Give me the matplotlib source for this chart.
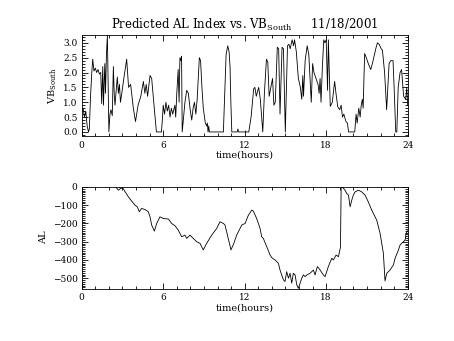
import numpy as np
import matplotlib
matplotlib.use("Agg")
import matplotlib.pyplot as plt
from matplotlib.ticker import MultipleLocator, FormatStrFormatter

plt.rcParams['font.family'] = ['DejaVu Serif']
plt.rcParams['mathtext.fontset'] = 'dejavuserif'

# VB_south (top panel), hours vs value
t_vb = [0.0, 0.1, 0.2, 0.3, 0.4, 0.5, 0.56, 0.65, 0.74, 0.81, 0.9, 1.0, 1.1, 1.2, 1.3, 1.4,
        1.47, 1.55, 1.6, 1.7, 1.75, 1.82, 1.89, 1.95, 2.0, 2.08, 2.15, 2.25, 2.33, 2.4, 2.45,
        2.62, 2.7, 2.78, 2.85, 2.95, 3.1, 3.31, 3.45, 3.6, 3.7, 3.8, 3.96, 4.15, 4.35, 4.54,
        4.65, 4.75, 4.85, 5.03, 5.15, 5.3, 5.4, 5.5, 5.87, 5.95, 6.0, 6.1, 6.2, 6.3, 6.4, 6.5,
        6.6, 6.7, 6.86, 6.92, 7.0, 7.1, 7.17, 7.23, 7.3, 7.35, 7.4, 7.6, 7.73, 7.85, 8.0, 8.1,
        8.2, 8.3, 8.4, 8.5, 8.66, 8.75, 8.85, 8.95, 9.1, 9.2, 9.25, 9.3, 9.35, 9.4, 10.43,
        10.63, 10.75, 10.85, 10.92, 10.98, 11.05, 11.45, 11.5, 11.55, 12.3, 12.47, 12.66,
        12.75, 12.85, 13.03, 13.15, 13.33, 13.45, 13.6, 13.7, 13.8, 13.97, 14.05, 14.15,
        14.25, 14.4, 14.5, 14.6, 14.75, 14.85, 14.99, 15.15, 15.25, 15.35, 15.49, 15.6,
        15.67, 15.8, 15.95, 16.1, 16.2, 16.28, 16.33, 16.45, 16.6, 16.72, 16.9, 17.0, 17.1,
        17.25, 17.4, 17.48, 17.55, 17.62, 17.72, 17.82, 17.9, 18.0, 18.1, 18.16, 18.3, 18.45,
        18.62, 18.72, 18.85, 19.0, 19.1, 19.2, 19.3, 19.45, 19.56, 19.65, 20.1, 20.2, 20.28,
        20.4, 20.5, 20.58, 20.66, 20.72, 20.83, 20.95, 21.1, 21.28, 21.4, 21.55, 21.65,
        21.77, 21.9, 22.05, 22.14, 22.3, 22.45, 22.63, 22.75, 22.92, 23.0, 23.12, 23.2, 23.3,
        23.44, 23.55, 23.7, 23.85, 23.93, 24.0]
vb = [0.75, 0.8, 0.5, 0.7, 0.2, 0.0, 0.1, 1.2, 2.0, 2.45, 2.05, 2.15, 2.0, 2.1, 1.95, 2.0,
      0.95, 2.2, 0.9, 2.3, 1.3, 2.6, 3.25, 1.5, 0.0, 0.6, 0.75, 0.55, 2.2, 1.2, 0.9,
      1.85, 1.3, 1.6, 1.0, 1.3, 1.8, 2.45, 1.5, 1.6, 1.2, 0.8, 0.35, 0.9, 1.2, 1.7,
      1.3, 1.6, 1.2, 1.9, 1.8, 1.0, 0.5, 0.0, 0.0, 0.5, 0.9, 0.6, 1.0, 0.7, 0.9, 0.5,
      0.8, 0.6, 0.9, 0.5, 1.3, 2.1, 1.0, 2.5, 2.4, 2.55, 0.0, 1.0, 1.4, 1.3, 0.7, 0.4,
      0.8, 1.0, 0.6, 1.1, 2.5, 2.4, 1.5, 0.8, 0.3, 0.2, 0.3, 0.0, 0.2, 0.0, 0.0,
      2.6, 2.9, 2.7, 2.2, 1.0, 0.0, 0.0, 0.1, 0.0, 0.0, 0.5, 1.45,
      1.5, 1.2, 1.5, 1.1, 0.0, 1.3, 2.45, 2.35, 1.2, 1.6, 1.8, 0.9,
      1.0, 2.85, 2.8, 0.6, 2.85, 2.8, 0.0, 2.9, 2.95, 2.8, 3.1, 2.9,
      3.1, 2.7, 1.8, 1.5, 1.1, 1.9, 1.2, 2.4, 2.9, 2.6, 1.0, 2.3, 2.0,
      1.8, 1.6, 1.3, 1.8, 1.0, 2.2, 3.1, 3.0, 3.1, 1.4, 3.1, 0.86, 1.0,
      1.7, 1.3, 0.85, 0.75, 0.9, 0.5, 0.6, 0.35, 0.3, 0.0, 0.0, 0.6, 0.3,
      0.8, 0.5, 0.9, 1.1, 0.8, 2.64, 2.5, 2.3, 2.1, 2.3, 2.6, 2.8,
      3.0, 2.95, 2.8, 2.75, 2.0, 0.75, 2.3, 2.4, 2.4, 1.5, 0.0, 0.0, 1.5,
      2.0, 2.1, 1.2, 1.1, 1.5, 0.9]

# predicted AL index (bottom panel)
t_al = [2.52, 2.7, 2.85, 3.01, 3.2, 3.43, 3.68, 3.92, 4.09, 4.24, 4.41, 4.66, 4.9, 5.03,
        5.15, 5.35, 5.52, 5.76, 6.0, 6.38, 6.62, 6.87, 7.11, 7.36, 7.6, 7.73, 7.97, 8.22,
        8.46, 8.71, 8.95, 9.2, 9.57, 9.94, 10.18, 10.43, 10.55, 10.99, 11.2, 11.41, 11.78,
        12.03, 12.27, 12.52, 12.64, 12.88, 13.13, 13.25, 13.37, 13.62, 13.87, 13.99, 14.23,
        14.48, 14.6, 14.72, 14.85, 14.97, 15.09, 15.22, 15.34, 15.46, 15.58, 15.71, 15.83,
        15.95, 16.08, 16.2, 16.32, 16.45, 16.57, 16.81, 17.06, 17.18, 17.35, 17.55, 17.79,
        17.92, 18.16, 18.41, 18.53, 18.73, 18.9, 19.05, 19.1, 19.2, 19.39, 19.51, 19.64,
        19.76, 19.88, 20.0, 20.13, 20.37, 20.61, 20.86, 21.1, 21.35, 21.47, 21.72, 21.97,
        22.21, 22.33, 22.46, 22.7, 22.95, 23.07, 23.32, 23.44, 23.56, 23.81, 23.88, 24.0]
al = [-2, -18, -9, -5, -27, -54, -78, -100, -109, -136, -118, -124, -136, -164,
      -209, -242, -200, -164, -173, -176, -200, -213, -237, -273, -264, -282, -264, -282,
      -300, -309, -345, -309, -264, -227, -191, -200, -209, -345, -309, -264, -209,
      -200, -155, -127, -133, -173, -227, -273, -282, -327, -373, -387, -400,
      -418, -455, -482, -509, -518, -464, -500, -473, -527, -473, -482, -536,
      -555, -527, -500, -482, -491, -482, -473, -455, -482, -436, -455, -482,
      -491, -436, -391, -400, -373, -382, -330, -5, -2, -18, -36, -45,
      -109, -73, -45, -27, -18, -27, -45, -82, -127, -145, -182, -255,
      -364, -515, -473, -455, -427, -391, -345, -318, -309, -291, -255, -240]

fig = plt.figure(figsize=(4.54, 3.41), dpi=100)
ax1 = fig.add_axes([0.180, 0.600, 0.718, 0.298])
ax2 = fig.add_axes([0.180, 0.153, 0.718, 0.300])

ax1.plot(t_vb, vb, color='k', lw=0.6)
ax2.plot(t_al, al, color='k', lw=0.6)

ax1.set_ylim(-0.15, 3.27)
ax1.yaxis.set_major_locator(MultipleLocator(0.5))
ax1.yaxis.set_minor_locator(MultipleLocator(0.1))
ax1.yaxis.set_major_formatter(FormatStrFormatter('%.1f'))
ax1.set_ylabel('VB$_{\\rm South}$', fontsize=7, labelpad=3)
ax1.set_title('Predicted AL Index vs. VB$_{\\rm South}$     11/18/2001', fontsize=8.5, pad=4)

ax2.set_ylim(-558, 2)
ax2.yaxis.set_major_locator(MultipleLocator(100))
ax2.yaxis.set_minor_locator(MultipleLocator(10))
ax2.set_ylabel('AL', fontsize=7, labelpad=3)

for ax in (ax1, ax2):
    ax.set_xlim(0, 24)
    ax.xaxis.set_major_locator(MultipleLocator(6))
    ax.xaxis.set_minor_locator(MultipleLocator(1))
    ax.set_xlabel('time(hours)', fontsize=7, labelpad=1)
    ax.tick_params(which='both', direction='in', top=True, right=True, width=0.6,
                   labelsize=6.5, pad=3)
    ax.tick_params(which='major', length=4.5)
    ax.tick_params(which='minor', length=2.2)
    for s in ax.spines.values():
        s.set_linewidth(0.6)

fig.savefig("out.png", dpi=100)
